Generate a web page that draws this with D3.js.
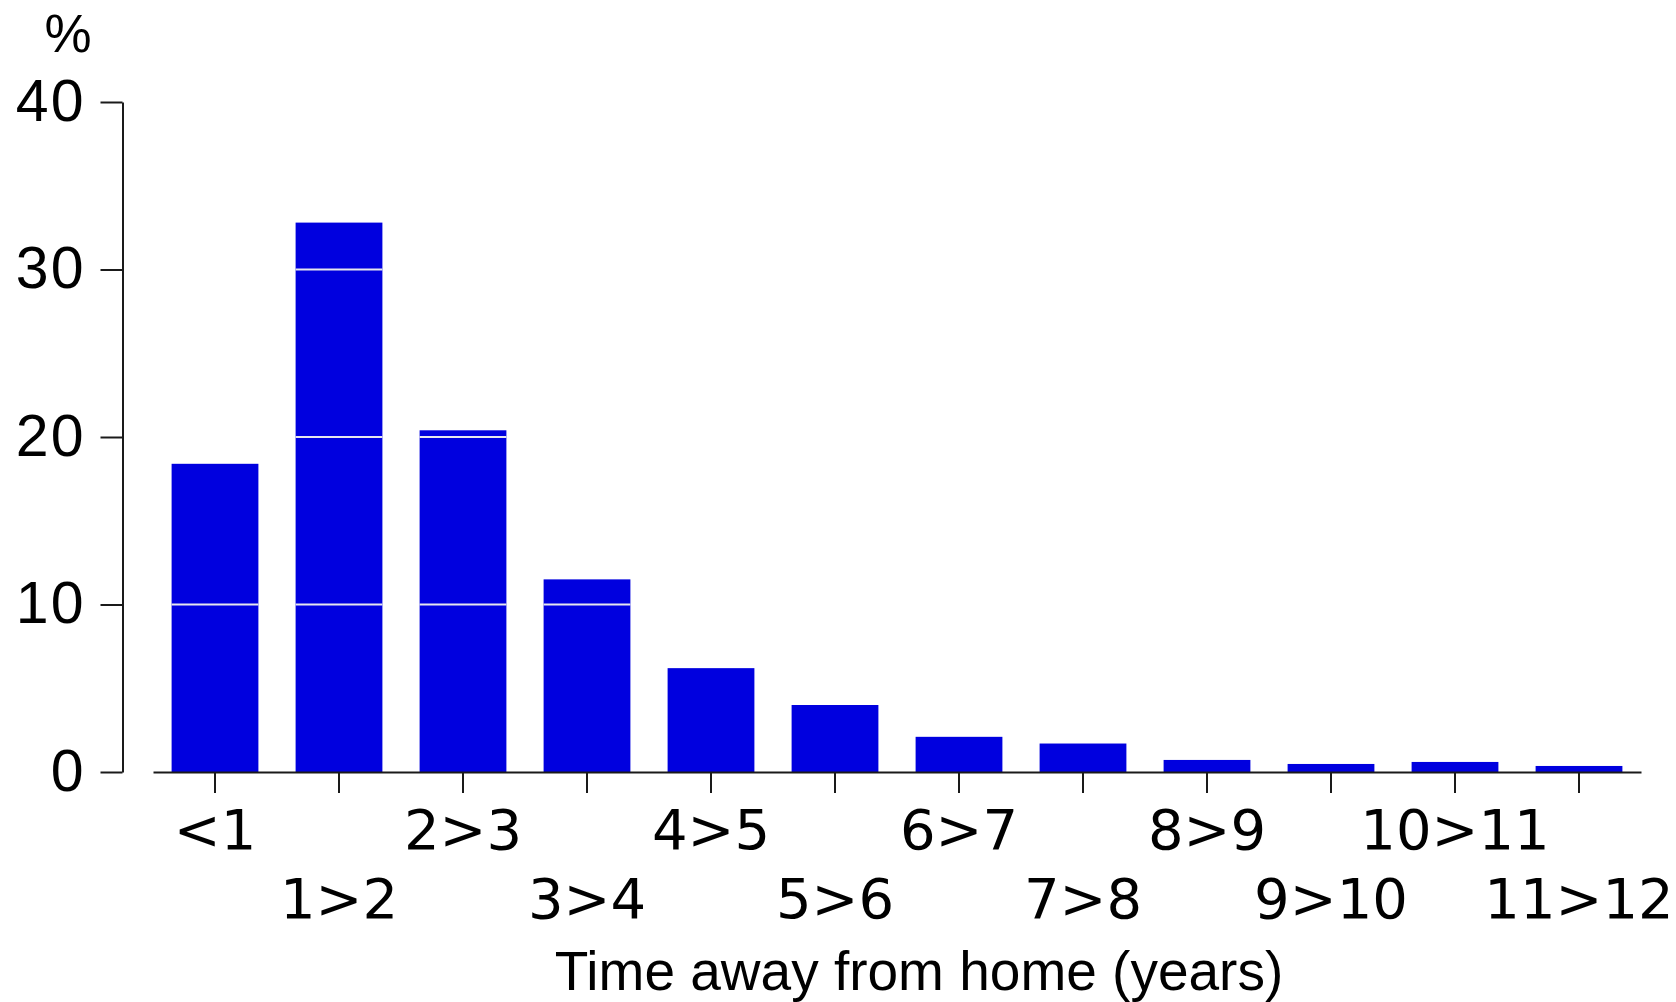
<!DOCTYPE html>
<html>
<head>
<meta charset="utf-8">
<script src="https://cdn.jsdelivr.net/npm/d3@7"></script>
<style>
  html, body { margin: 0; padding: 0; background: #fff; }
  svg { display: block; }
</style>
</head>
<body>
<svg id="chart" width="1676" height="1002"></svg>
<script>
// ---- data ----
const categories = ["<1", "1>2", "2>3", "3>4", "4>5", "5>6", "6>7", "7>8", "8>9", "9>10", "10>11", "11>12"];
const values = [18.4, 32.8, 20.4, 11.5, 6.2, 4.0, 2.1, 1.7, 0.72, 0.48, 0.6, 0.36];
const yTicks = [0, 10, 20, 30, 40];
const gridValues = [10, 20, 30];
const yUnitLabel = "%";
const xTitle = "Time away from home (years)";

// ---- layout ----
const svg = d3.select("#chart");
const x = d3.scaleBand().domain(categories).range([153, 1641]).paddingInner(0.3).paddingOuter(0.15);
const y = d3.scaleLinear().domain([0, 40]).range([772, 102]);
const barColor = "#0000df";

// bars
const bars = svg.append("g");
bars.selectAll("rect").data(values).join("rect")
  .attr("x", (d, i) => x(categories[i]))
  .attr("width", x.bandwidth())
  .attr("y", d => y(d))
  .attr("height", d => y(0) - y(d))
  .attr("fill", barColor);

// light gridlines, visible only across the bars
svg.append("g").selectAll("g").data(values).join("g")
  .each(function (v, i) {
    d3.select(this).selectAll("line").data(gridValues.filter(g => g < v)).join("line")
      .attr("x1", x(categories[i])).attr("x2", x(categories[i]) + x.bandwidth())
      .attr("y1", g => y(g)).attr("y2", g => y(g))
      .attr("stroke", "#e6e6ee").attr("stroke-width", 1.8);
  });

// y axis
const yAxis = svg.append("g")
  .attr("transform", "translate(122.5,0)")
  .call(d3.axisLeft(y).tickValues(yTicks).tickSize(22).tickSizeOuter(0).tickPadding(15));
yAxis.selectAll("path, line").attr("stroke", "#1a1a1a").attr("stroke-width", 2);
yAxis.selectAll("text")
  .attr("font-family", "'Liberation Sans', Arial, sans-serif")
  .attr("font-size", 59).attr("fill", "#000")
  .attr("letter-spacing", 2)
  .attr("dy", "0.31em");

// x axis
const xAxis = svg.append("g")
  .attr("transform", "translate(0,772)")
  .call(d3.axisBottom(x).tickSize(21).tickSizeOuter(0));
xAxis.selectAll("path, line").attr("stroke", "#1a1a1a").attr("stroke-width", 2);
xAxis.selectAll("text")
  .attr("font-family", "'DejaVu Sans', sans-serif")
  .attr("font-size", 56).attr("fill", "#000")
  .attr("dy", "0")
  .attr("y", (d, i) => i % 2 === 0 ? 77 : 146);

// unit label
svg.append("text")
  .attr("x", 68).attr("y", 52)
  .attr("text-anchor", "middle")
  .attr("font-family", "'Liberation Sans', Arial, sans-serif")
  .attr("font-size", 53).attr("fill", "#000")
  .text(yUnitLabel);

// x title
svg.append("text")
  .attr("x", 919).attr("y", 990)
  .attr("text-anchor", "middle")
  .attr("font-family", "'Liberation Sans', Arial, sans-serif")
  .attr("font-size", 55).attr("fill", "#000")
  .text(xTitle);
</script>
</body>
</html>
